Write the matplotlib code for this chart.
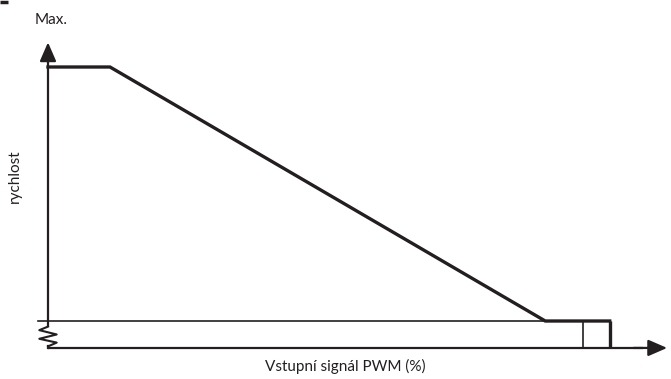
import numpy as np
import matplotlib.pyplot as plt

# průběh rychlosti podle PWM signálu
pwm = [0, 10, 80.2, 90.6]
rychlost = [100, 100, 0, 0]
pwm_stop = 86.3          # tenká svislá čára
pwm_konec = 90.6         # konec křivky (spadne na osu)

# cik-cak na ose y (přerušení osy)
zig_x = [0, -1.4, 1.4, -1.4, 1.4, 0]
zig_y = [-2.2, -3.6, -5.3, -7.0, -8.5, -10.0]

x_label = "Vstupní signál PWM (%)"
y_label = "rychlost"
max_label = "Max."

col = "#231f20"
plt.rcParams['font.family'] = ['Lato', 'DejaVu Sans']

fig = plt.figure(figsize=(6.71, 3.79), dpi=100)
ax = fig.add_axes([0, 0, 1, 1])
ax.set_xlim(-7.74, 100.48)
ax.set_ylim(-22.83, 126.38)
ax.axis('off')

osa_y = -10.6
sipka = dict(arrowstyle='-|>,head_width=0.5,head_length=1.15', color=col, lw=1.6)

# osa y
ax.plot([0, 0], [zig_y[0], 104], color=col, lw=1.6, solid_capstyle='butt')
ax.annotate('', xy=(0, 110.8), xytext=(0, 102), arrowprops=sipka)
ax.plot(zig_x, zig_y, color=col, lw=1.5)
ax.plot([0, 0], [zig_y[-1], osa_y], color=col, lw=1.6)

# osa x
ax.plot([0, 96], [osa_y, osa_y], color=col, lw=1.6, solid_capstyle='butt')
ax.annotate('', xy=(100.3, osa_y), xytext=(94, osa_y), arrowprops=sipka)

# minimální úroveň
ax.plot([-1.6, pwm[2]], [0, 0], color=col, lw=1.2)

# křivka
ax.plot(pwm, rychlost, color=col, lw=2.4, solid_joinstyle='miter')
ax.plot([pwm_konec, pwm_konec], [0, osa_y], color=col, lw=2.4, solid_capstyle='butt')
ax.plot([pwm_stop, pwm_stop], [0, osa_y], color=col, lw=1.2)

# texty
ax.text(-2.1, 118.5, max_label, fontsize=11, color=col, ha='left', va='center')
ax.text(-5.3, 57, y_label, fontsize=11, color=col, rotation=90,
        ha='center', va='center')
ax.text(48, -17.7, x_label, fontsize=11, color=col, ha='center', va='center')

# značka v levém horním rohu
ax.plot([-7.74, -6.4], [125.6, 125.6], color=col, lw=2.5, solid_capstyle='butt')

fig.savefig('out.png', dpi=100)
